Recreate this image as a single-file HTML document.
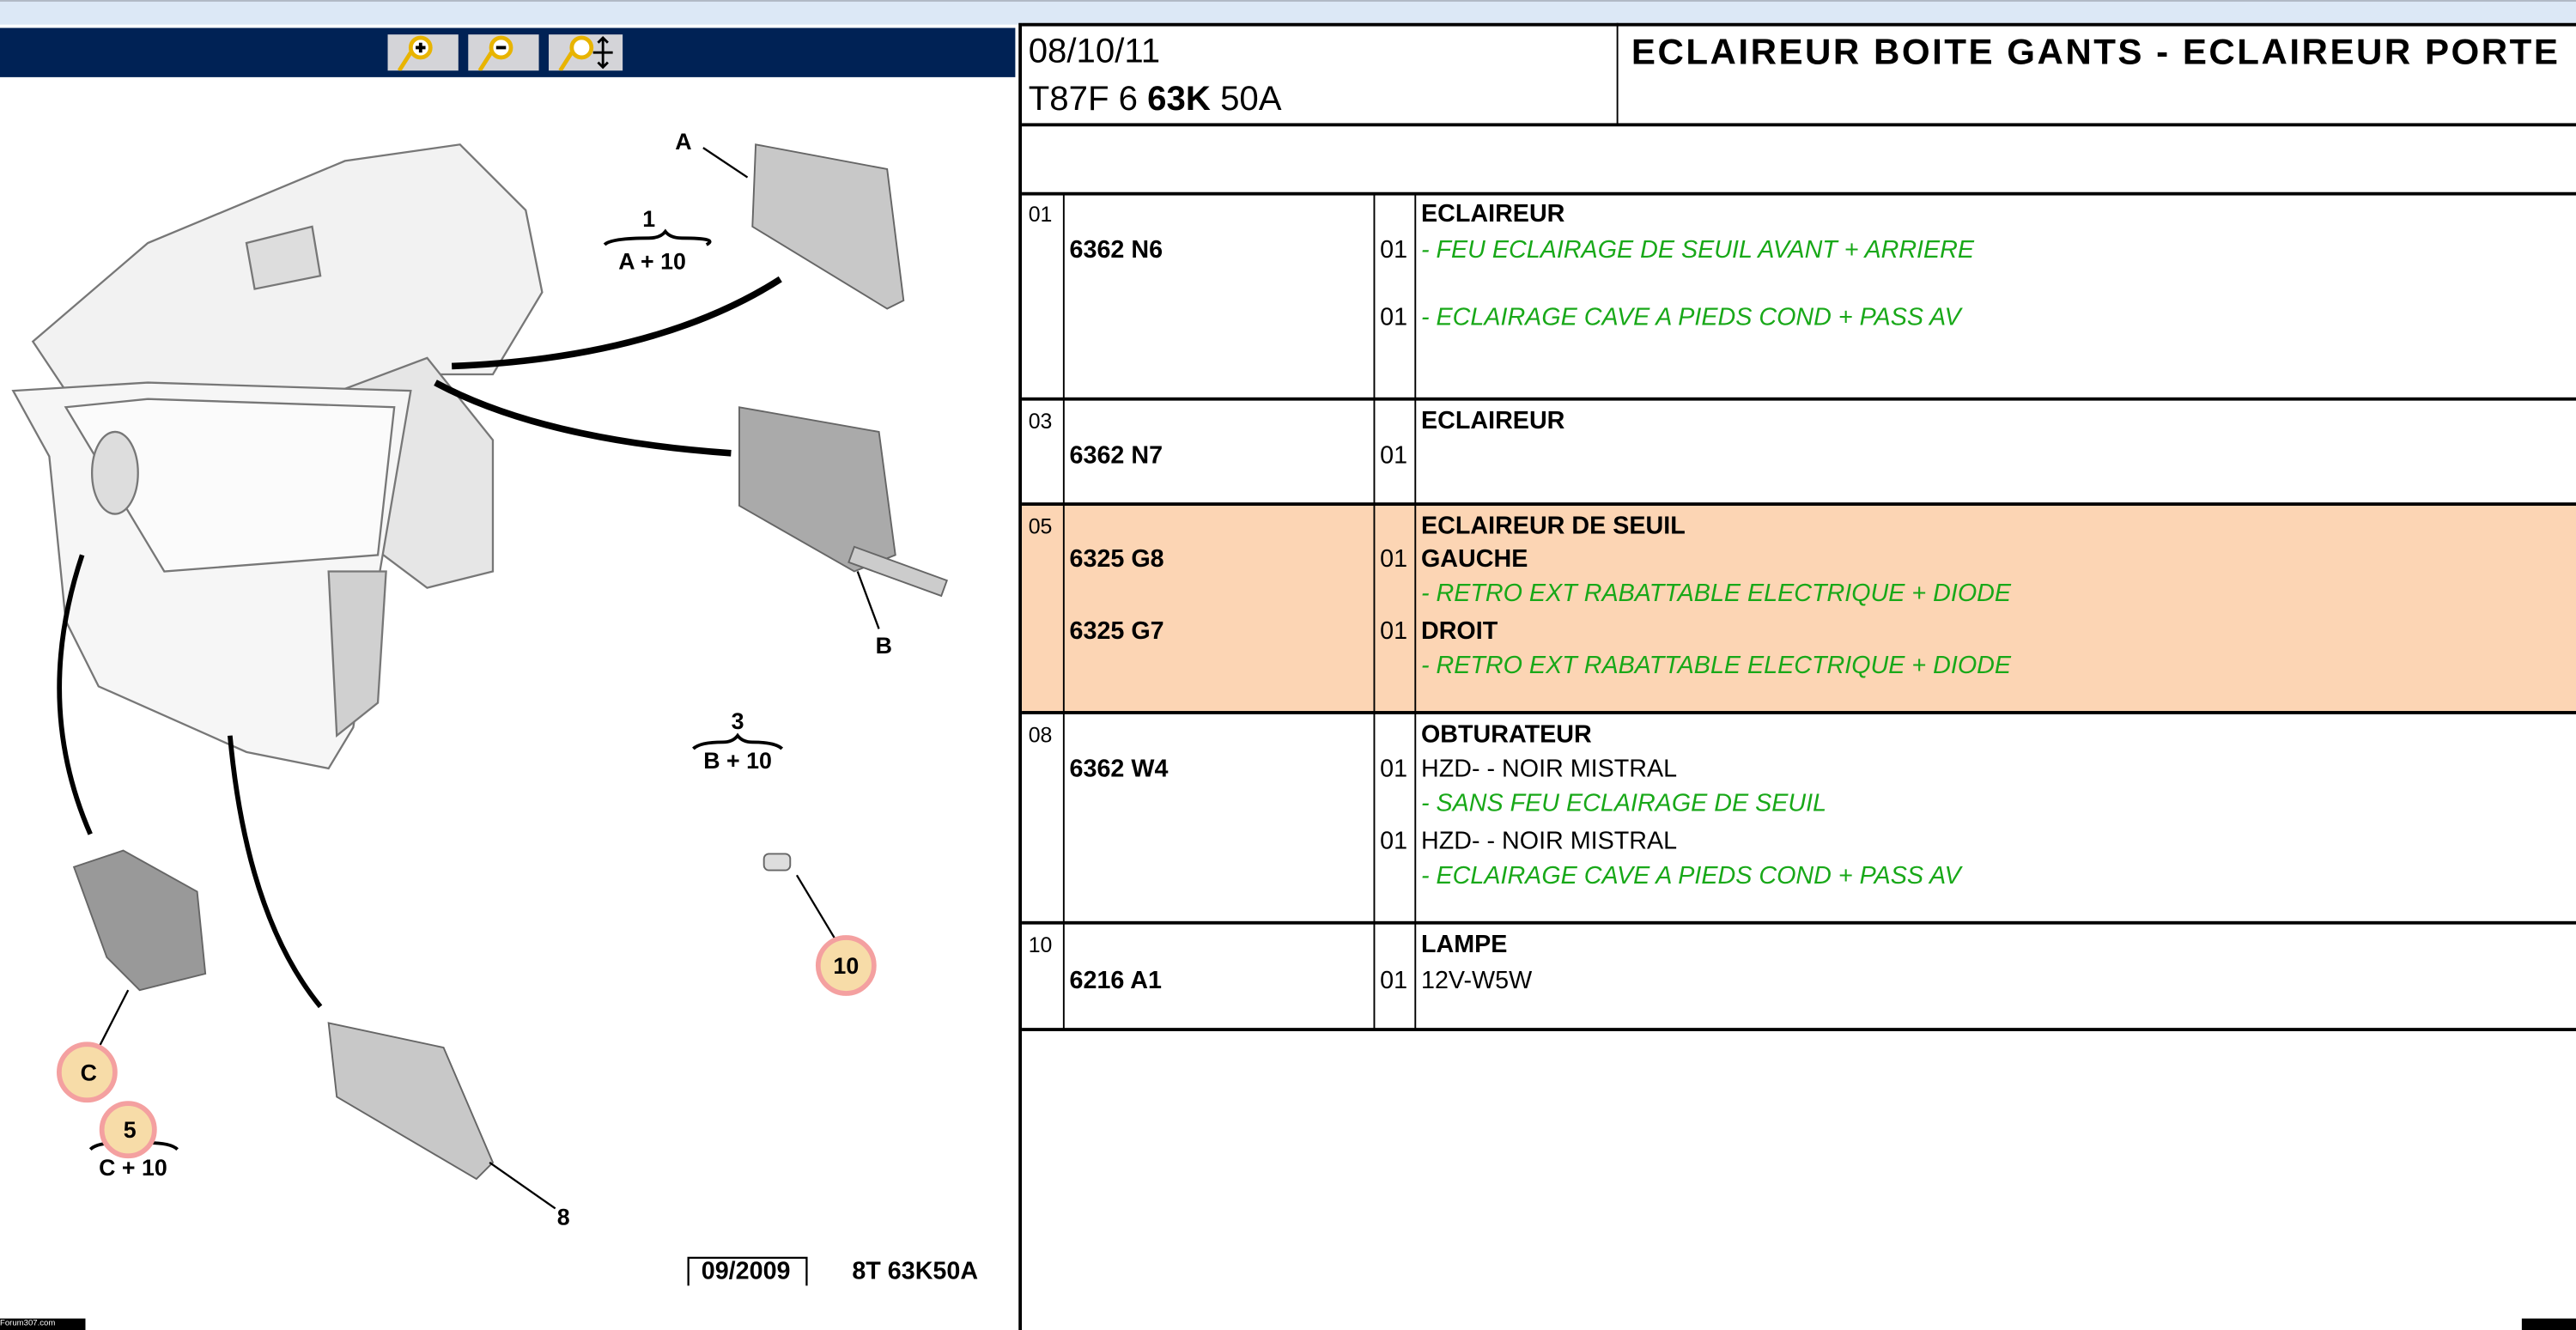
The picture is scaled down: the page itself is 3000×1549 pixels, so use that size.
<!DOCTYPE html>
<html><head><meta charset="utf-8"><style>
html,body{margin:0;padding:0;background:#fff;overflow:hidden}
#w{position:absolute;left:0;top:0;width:1568px;height:810px;transform:scale(1.91327,1.91235);transform-origin:0 0;font-family:"Liberation Sans",Arial,sans-serif;}
.a{position:absolute}
.t{position:absolute;font-size:15px;white-space:nowrap;color:#000}
.b{font-weight:bold}
.g{color:#18a818;font-style:italic}
.hl{position:absolute;background:#000;height:2px;left:622px;width:946px}
.vl{position:absolute;background:#000;width:1px}
</style></head><body><div id="w">
<div class="a" style="left:0;top:0;width:1568px;height:14px;background:#dce8f6;border-top:1px solid #b0b8c4"></div>
<div class="a" style="left:0;top:17px;width:618px;height:30px;background:#002255"></div>
<div class="a" style="left:236px;top:21px;width:43px;height:22px;background:#d4d4d8"></div>
<div class="a" style="left:285px;top:21px;width:43px;height:22px;background:#d4d4d8"></div>
<div class="a" style="left:334px;top:21px;width:45px;height:22px;background:#d4d4d8"></div>
<svg class="a" style="left:236px;top:21px" width="150" height="22">
<g stroke="#e8b400" stroke-width="2.5" fill="#fff"><line x1="7" y1="22" x2="14" y2="11"/><circle cx="20" cy="8" r="6"/>
<line x1="56" y1="22" x2="63" y2="11"/><circle cx="69" cy="8" r="6"/>
<line x1="105" y1="22" x2="112" y2="11"/><circle cx="118" cy="8" r="6"/></g>
<path d="M17 8h6M20 5v6M66 8h6" stroke="#000" stroke-width="2"/>
<path d="M131 2v18M125 11h12M128 5l3-3 3 3M128 17l3 3 3-3" stroke="#000" stroke-width="1.5" fill="none"/>
</svg>
<div class="a" style="left:620px;top:14px;width:2px;height:796px;background:#000"></div>
<!-- header -->
<div class="hl" style="top:14px"></div>
<div class="hl" style="top:75px"></div>
<div class="hl" style="top:117px"></div>
<div class="vl" style="left:984px;top:14px;height:62px"></div>
<div class="t" style="left:626px;top:20px;font-size:21px">08/10/11</div>
<div class="t" style="left:626px;top:49px;font-size:21px">T87F 6 <b>63K</b> 50A</div>
<div class="t b" style="left:993px;top:19px;font-size:22px;letter-spacing:1.3px">ECLAIREUR BOITE GANTS - ECLAIREUR PORTE</div>
<!-- rows -->
<div class="a" style="left:622px;top:307px;width:946px;height:127px;background:#fcd5b4"></div>
<div class="hl" style="top:242px"></div>
<div class="hl" style="top:306px"></div>
<div class="hl" style="top:433px"></div>
<div class="hl" style="top:561px"></div>
<div class="hl" style="top:626px"></div>
<div class="vl" style="left:647px;top:118px;height:509px"></div>
<div class="vl" style="left:836px;top:118px;height:509px"></div>
<div class="vl" style="left:861px;top:118px;height:509px"></div>
<div class="t" style="left:626px;top:123px;font-size:13px">01</div>
<div class="t b" style="left:865px;top:122px">ECLAIREUR</div>
<div class="t b" style="left:651px;top:144px">6362 N6</div>
<div class="t" style="left:840px;top:144px">01</div><div class="t g" style="left:865px;top:144px">- FEU ECLAIRAGE DE SEUIL AVANT + ARRIERE</div>
<div class="t" style="left:840px;top:185px">01</div><div class="t g" style="left:865px;top:185px">- ECLAIRAGE CAVE A PIEDS COND + PASS AV</div>
<div class="t" style="left:626px;top:249px;font-size:13px">03</div>
<div class="t b" style="left:865px;top:248px">ECLAIREUR</div>
<div class="t b" style="left:651px;top:269px">6362 N7</div><div class="t" style="left:840px;top:269px">01</div>
<div class="t" style="left:626px;top:313px;font-size:13px">05</div>
<div class="t b" style="left:865px;top:312px">ECLAIREUR DE SEUIL</div>
<div class="t b" style="left:651px;top:332px">6325 G8</div><div class="t" style="left:840px;top:332px">01</div><div class="t b" style="left:865px;top:332px">GAUCHE</div>
<div class="t g" style="left:865px;top:353px">- RETRO EXT RABATTABLE ELECTRIQUE + DIODE</div>
<div class="t b" style="left:651px;top:376px">6325 G7</div><div class="t" style="left:840px;top:376px">01</div><div class="t b" style="left:865px;top:376px">DROIT</div>
<div class="t g" style="left:865px;top:397px">- RETRO EXT RABATTABLE ELECTRIQUE + DIODE</div>
<div class="t" style="left:626px;top:440px;font-size:13px">08</div>
<div class="t b" style="left:865px;top:439px">OBTURATEUR</div>
<div class="t b" style="left:651px;top:460px">6362 W4</div><div class="t" style="left:840px;top:460px">01</div><div class="t" style="left:865px;top:460px">HZD- - NOIR MISTRAL</div>
<div class="t g" style="left:865px;top:481px">- SANS FEU ECLAIRAGE DE SEUIL</div>
<div class="t" style="left:840px;top:504px">01</div><div class="t" style="left:865px;top:504px">HZD- - NOIR MISTRAL</div>
<div class="t g" style="left:865px;top:525px">- ECLAIRAGE CAVE A PIEDS COND + PASS AV</div>
<div class="t" style="left:626px;top:568px;font-size:13px">10</div>
<div class="t b" style="left:865px;top:567px">LAMPE</div>
<div class="t b" style="left:651px;top:589px">6216 A1</div><div class="t" style="left:840px;top:589px">01</div><div class="t" style="left:865px;top:589px">12V-W5W</div>
<!-- diagram -->
<svg class="a" style="left:0;top:48px" width="618" height="755" font-family="Liberation Sans,Arial,sans-serif" font-weight="bold">
<g fill="#f2f2f2" stroke="#777" stroke-width="1.2">
<path d="M20 160 L90 100 L210 50 L280 40 L320 80 L330 130 L300 180 L250 180 L180 230 L120 250 L60 220 Z"/>
<path d="M180 200 L260 170 L300 220 L300 300 L260 310 L220 280 Z" fill="#e6e6e6"/>
<path d="M8 190 L90 185 L250 190 L215 395 L200 420 L150 410 L60 370 L40 330 L30 230 Z" fill="#f6f6f6"/>
<path d="M40 200 L90 195 L240 200 L230 290 L100 300 Z" fill="#fbfbfb"/>
<ellipse cx="70" cy="240" rx="14" ry="25" fill="#ddd"/>
<path d="M150 100 L190 90 L195 120 L155 128 Z" fill="#ddd"/>
<path d="M200 300 L235 300 L230 380 L205 400 Z" fill="#d0d0d0"/>
</g>
<g fill="#c8c8c8" stroke="#666">
<path d="M460 40 L540 55 L550 135 L540 140 L458 90 Z"/>
<path d="M450 200 L535 215 L545 290 L520 300 L450 260 Z" fill="#aaa"/>
<rect x="520" y="285" width="60" height="10" transform="rotate(20 520 285)" fill="#ccc"/>
<path d="M200 575 L270 590 L300 660 L290 670 L205 620 Z"/>
<path d="M45 480 L75 470 L120 495 L125 545 L85 555 L65 535 Z" fill="#999"/>
<rect x="465" y="472" width="16" height="10" rx="3" fill="#ddd"/>
</g>
<g stroke="#000" fill="none">
<path d="M275 175 Q400 170 475 122" stroke-width="4"/>
<path d="M265 185 Q330 220 445 228" stroke-width="4"/>
<path d="M50 290 Q20 380 55 460" stroke-width="3"/>
<path d="M140 400 Q150 510 195 565" stroke-width="3"/>
<path d="M428 42 L455 60 M522 300 L535 335 M485 485 L512 530 M78 555 L55 600 M298 660 L338 688" stroke-width="1.2"/>
<path d="M368 101 Q372 97 395 97 Q402 97 405 93 Q408 97 415 97 Q438 97 430 101 M422 408 Q426 404 440 404 Q446 404 449 400 Q452 404 458 404 Q472 404 476 408 M55 652 Q59 648 72 648 Q78 648 81 644 Q84 648 90 648 Q104 648 108 652" stroke-width="2"/>
</g>
<g fill="#f7dca8" stroke="#f4a0a0" stroke-width="3"><circle cx="515" cy="540" r="17"/><circle cx="53" cy="605" r="17"/><circle cx="78" cy="640" r="16"/></g>
<g font-size="14" text-anchor="middle">
<text x="416" y="43">A</text><text x="395" y="90">1</text><text x="397" y="116">A + 10</text>
<text x="538" y="350">B</text><text x="449" y="396">3</text><text x="449" y="420">B + 10</text>
<text x="515" y="545">10</text><text x="54" y="610">C</text><text x="79" y="645">5</text><text x="81" y="668">C + 10</text>
<text x="343" y="698">8</text>
<text x="454" y="731" font-size="15">09/2009</text><text x="557" y="731" font-size="15">8T 63K50A</text>
</g>
<path d="M419 735 V718 H491 V735" stroke="#000" fill="none" stroke-width="1.2"/>
</svg>
<div class="a" style="left:0;top:803px;width:52px;height:7px;background:#000;color:#fff;font-size:5px;line-height:7px">Forum307.com</div>
<div class="a" style="left:1535px;top:803px;width:33px;height:7px;background:#000"></div>
</div></body></html>
